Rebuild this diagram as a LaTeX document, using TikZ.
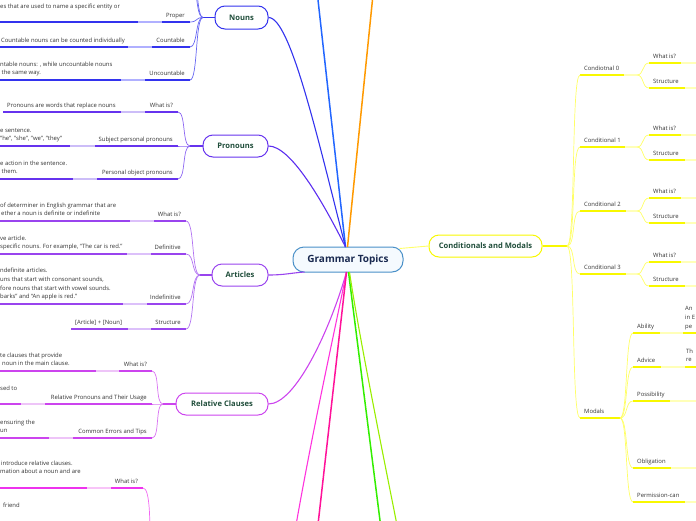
\documentclass[tikz,border=0pt]{standalone}
\usepackage{fontspec}
\setmainfont{Open Sans}
\usetikzlibrary{calc}
\definecolor{nounC}{HTML}{3333EE}\definecolor{nounL}{HTML}{B0B0FF}
\definecolor{proC}{HTML}{6633EE}\definecolor{proL}{HTML}{CCBDF8}
\definecolor{artC}{HTML}{9944EE}\definecolor{artL}{HTML}{DCC0FA}
\definecolor{relC}{HTML}{CC44EE}\definecolor{relL}{HTML}{EEC4F8}
\definecolor{magC}{HTML}{EE33EE}\definecolor{magL}{HTML}{F8C4F8}
\definecolor{yelC}{HTML}{F8F800}\definecolor{yelL}{HTML}{FFFFB8}\definecolor{yelB}{HTML}{FFFF66}
\definecolor{nodetext}{HTML}{1F4D3A}
\definecolor{gtext}{HTML}{1A2A50}
\definecolor{gborder}{HTML}{4A90C8}
\definecolor{gfill}{HTML}{F5FAFE}
\definecolor{txtgray}{HTML}{333333}
\definecolor{topblue}{HTML}{2266FF}
\definecolor{orangeC}{HTML}{FF9900}
\definecolor{pinkA}{HTML}{FF33DD}
\definecolor{pinkB}{HTML}{FF1199}
\definecolor{greenA}{HTML}{33EE00}
\definecolor{greenB}{HTML}{99EE00}
\tikzset{
  topic/.style={draw, rounded corners=10pt, line width=1pt, fill=white,
    font=\bfseries\fontsize{7.6}{9}\selectfont, text=nodetext, inner sep=0pt},
  lbl/.style={font=\fontsize{5.9}{8.8}\selectfont, text=txtgray, inner sep=0pt},
  desc/.style={lbl, align=left, text depth=0pt},
  ul/.style={line width=1.7pt},
  br/.style={line width=0.7pt},
  trunk/.style={line width=1.2pt},
  edge/.style={line width=1.1pt},
}
% left item: id, dark, light, label, y, xr, xb, xa, x0
\newcommand\Litem[9]{%
  \coordinate (#1r) at (#6,#5);
  \coordinate (#1b) at (#7,#5);
  \coordinate (#1a) at (#8,#5);
  \coordinate (#1l) at (#9,#5);
  \node[lbl, anchor=base east] (#1) at ($(#1r)+(-5,-5)$) {#4};
  \draw[ul,#2] (#1b) -- (#1r);
  \draw[ul,#3] (#1a) -- (#1b);
  \draw[ul,#2] (#1l) -- (#1a);
}
% right item: id, dark, light, label, y, xl, xd, xe
\newcommand\Ritem[8]{%
  \coordinate (#1l) at (#6,#5);
  \coordinate (#1d) at (#7,#5);
  \coordinate (#1e) at (#8,#5);
  \node[lbl, anchor=base west] (#1) at ($(#1l)+(4,-5)$) {#4};
  \draw[ul,#2] (#1l) -- (#1d);
  \draw[ul,#3] (#1d) -- (#1e);
}
\begin{document}
\begin{tikzpicture}[x=1pt,y=-1pt]
\useasboundingbox (0,0) rectangle (696,520);
\clip (0,0) rectangle (696,520);

% ---------- main nodes ----------
\node[topic, draw=gborder, fill=gfill, text=gtext, rounded corners=11pt,
  font=\bfseries\fontsize{10}{12}\selectfont,
  minimum width=110pt, minimum height=25pt] (gt) at (348,259.5) {Grammar Topics};
\node[topic, draw=nounC, minimum width=53pt, minimum height=23pt] (nouns) at (241.5,17.5) {Nouns};
\node[topic, draw=proC, minimum width=65pt, minimum height=22pt] (pron) at (235.5,146) {Pronouns};
\node[topic, draw=artC, minimum width=56pt, minimum height=22pt] (art) at (240,275) {Articles};
\node[topic, draw=relC, minimum width=92pt, minimum height=22pt] (rel) at (222,404) {Relative Clauses};
\node[topic, draw=yelC, minimum width=113pt, minimum height=22pt] (cond) at (485.5,246) {Conditionals and Modals};

% ---------- main connectors ----------
\coordinate (gtT) at ($(gt.north)+(-2.5,0.5)$);
\coordinate (gtB) at ($(gt.south)+(-1.5,-0.5)$);
\coordinate (gtBL) at ($(gt.south west)+(12,-0.5)$);
\coordinate (offBlue) at (313,-45);
\coordinate (offOrange) at (377,-45);
\coordinate (offP1) at (290,560);
\coordinate (offP2) at (314,560);
\coordinate (offG1) at (385,560);
\coordinate (offG2) at (404,560);

\draw[edge, topblue, line width=1.5pt] (gtT) -- (offBlue);
\draw[edge, orangeC, line width=1.5pt] ($(gtT)+(2,0)$) -- (offOrange);
\draw[edge, nounC] (nouns.east) .. controls +(22,0) and (318,140) .. (gtT);
\draw[edge, proC!90!blue] (pron.east) .. controls +(22,0) and (322,200) .. (gtT);
\draw[edge, artC] (art.east) .. controls +(16,0) and +(-14,1) .. (gtBL);
\draw[edge, relC] (rel.east) .. controls +(27,0) and (330,330) .. (gtB);
\draw[edge, pinkA] (gtB) .. controls (335,330) and (310,440) .. (offP1);
\draw[edge, pinkB, line width=1.5pt] (gtB) -- (offP2);
\draw[edge, greenA, line width=1.5pt] ($(gtB)+(2,0)$) -- (offG1);
\draw[edge, greenB] ($(gtB)+(3,0)$) .. controls (358,330) and (380,440) .. (offG2);
\draw[edge, yelB, line width=0.9pt] ($(gt.east)+(-4,-11)$) -- (cond.west);

% ---------- Nouns ----------
\coordinate (nj) at (203,17.5);
\coordinate (nq1r) at (190,-22);
\coordinate (nq2r) at (190,-48);
\draw[trunk, nounC] (nouns.west) -- (nj);
\Litem{np}{nounC}{nounL}{Proper}{22}{190}{162}{138}{-5}
\Litem{nc}{nounC}{nounL}{Countable}{47}{190}{152}{128}{-5}
\Litem{nu}{nounC}{nounL}{Uncountable}{80}{190}{145}{121}{-5}
\foreach \t in {np,nc,nu,nq1,nq2}
  \draw[br, nounC!75] (nj) .. controls +(-8,0) and +(8,0) .. (\t r);
\node[lbl, anchor=base west] (npd) at (0,8) {es that are used to name a specific entity or};
\node[lbl, anchor=base west] (ncd) at (1,42) {Countable nouns can be counted individually};
\node[desc, anchor=south west] (nud) at (0,75) {ntable nouns: , while uncountable nouns\\\hspace*{1.5pt}the same way.};

% ---------- Pronouns ----------
\coordinate (pj) at (190,146);
\draw[trunk, proC] (pron.west) -- (pj);
\Litem{pw}{proC}{proL}{What is?}{112}{178}{145}{121}{3}
\Litem{ps}{proC}{proL}{Subject personal pronouns}{146}{178}{95}{70}{-5}
\Litem{po}{proC}{proL}{Personal object pronouns}{179}{178}{97}{73}{-5}
\foreach \t in {pw,ps,po}
  \draw[br, proC!75] (pj) .. controls +(-8,0) and +(8,0) .. (\t r);
\node[lbl, anchor=base west] (pwd) at (7,107) {Pronouns are words that replace nouns};
\node[desc, anchor=south west] (psd) at (0,141) {e sentence.\\"he", "she", "we", "they"};
\node[desc, anchor=south west] (pod) at (0,174) {e action in the sentence.\\\hspace*{1.5pt}them.};

% ---------- Articles ----------
\coordinate (aj) at (200,275);
\draw[trunk, artC] (art.west) -- (aj);
\Litem{aw}{artC}{artL}{What is?}{221}{186}{154}{130}{-5}
\Litem{ad}{artC}{artL}{Definitive}{254}{186}{151}{127}{-5}
\Litem{ai}{artC}{artL}{Indefinitive}{304}{186}{147}{123}{-5}
\Litem{as}{artC}{artL}{Structure}{329}{186}{151}{128}{71}
\foreach \t in {aw,ad,ai,as}
  \draw[br, artC!75] (aj) .. controls +(-9,0) and +(9,0) .. (\t r);
\node[desc, anchor=south west] (awd) at (0,216) {of determiner in English grammar that are\\\hspace*{1pt}ether a noun is definite or indefinite};
\node[desc, anchor=south west] (add) at (0,249) {ve article.\\specific nouns. For example, ``The car is red.''};
\node[desc, anchor=south west] (aid) at (0,299) {ndefinite articles.\\uns that start with consonant sounds,\\fore nouns that start with vowel sounds.\\barks'' and ``An apple is red.''};
\node[lbl, anchor=base west] (asd) at (75,324) {[Article] + [Noun]};

% ---------- Relative Clauses ----------
\coordinate (rj) at (163,404);
\draw[trunk, relC] (rel.west) -- (rj);
\Litem{rw}{relC}{relL}{What is?}{371}{152}{119}{96}{-5}
\Litem{rp}{relC}{relL}{Relative Pronouns and Their Usage}{404}{152}{45}{21}{-5}
\Litem{re}{relC}{relL}{Common Errors and Tips}{438}{152}{73}{49}{-5}
\foreach \t in {rw,rp,re}
  \draw[br, relC!75] (rj) .. controls +(-8,0) and +(8,0) .. (\t r);
\node[desc, anchor=south west] (rwd) at (0,366) {te clauses that provide\\\hspace*{2pt}noun in the main clause.};
\node[lbl, anchor=base west] (rpd) at (0,390) {sed to};
\node[desc, anchor=south west] (red) at (0,433) {ensuring the\\un};

% ---------- lower magenta branch ----------
\coordinate (mj) at (150,545);
\Litem{mw}{magC}{magL}{What is?}{488}{143}{111}{87}{-5}
\draw[br, magC!75] (mwr) .. controls +(7,0) and +(0,-25) .. (mj);
\node[desc, anchor=south west] (mwd) at (0,474) {\hspace*{1pt}introduce relative clauses.\\mation about a noun and are};
\node[lbl, anchor=base west] (mfd) at (3,507) {friend};

% ---------- Conditionals and Modals ----------
\coordinate (cj) at (567,246);
\draw[trunk, yelC] (cond.east) -- (cj);
% level 1
\Ritem{c0}{yelC}{yelL}{Condiotnal 0}{75}{580}{624}{637}
\Ritem{c1}{yelC}{yelL}{Conditional 1}{147}{580}{625}{637}
\Ritem{c2}{yelC}{yelL}{Conditional 2}{211}{580}{626}{637}
\Ritem{c3}{yelC}{yelL}{Conditional 3}{274}{580}{626}{637}
\Ritem{md}{yelC}{yelL}{Modals}{418}{580}{620}{620}
\foreach \t in {c0,c1,c2,c3,md}
  \draw[br, yelB] (cj) .. controls +(9,0) and +(-9,0) .. (\t l);
% level 2: conditionals
\foreach \c/\ya/\yb in {c0/63/88, c1/135/160, c2/198/223, c3/262/286}{
  \Ritem{\c w}{yelC}{yelL}{What is?}{\ya}{649}{681}{700}
  \Ritem{\c s}{yelC}{yelL}{Structure}{\yb}{649}{685}{700}
  \draw[br, yelB] (\c e) .. controls +(7,0) and +(-7,0) .. (\c wl);
  \draw[br, yelB] (\c e) .. controls +(7,0) and +(-7,0) .. (\c sl);
}
% level 2: modals
\Ritem{mab}{yelC}{yelL}{Ability}{333}{633}{660}{683}
\Ritem{mad}{yelC}{yelL}{Advice}{367}{633}{661}{685}
\Ritem{mpo}{yelC}{yelL}{Possibility}{401}{633}{670}{700}
\Ritem{mob}{yelC}{yelL}{Obligation}{468}{633}{671}{700}
\Ritem{mpe}{yelC}{yelL}{Permission-can}{502}{633}{685}{700}
\coordinate (mabx) at (700,333);
\coordinate (madx) at (700,367);
\draw[ul, yelC] (mabe) -- (mabx);
\draw[ul, yelC] (made) -- (madx);
\foreach \t in {mab,mad,mpo,mob,mpe}
  \draw[br, yelB] (mdd) .. controls +(8,0) and +(-8,0) .. (\t l);
\node[desc, anchor=south west] (mabd) at (685,328.5) {An\\in E\\pe};
\node[desc, anchor=south west] (madd) at (686,362) {Th\\re};
\end{tikzpicture}
\end{document}
